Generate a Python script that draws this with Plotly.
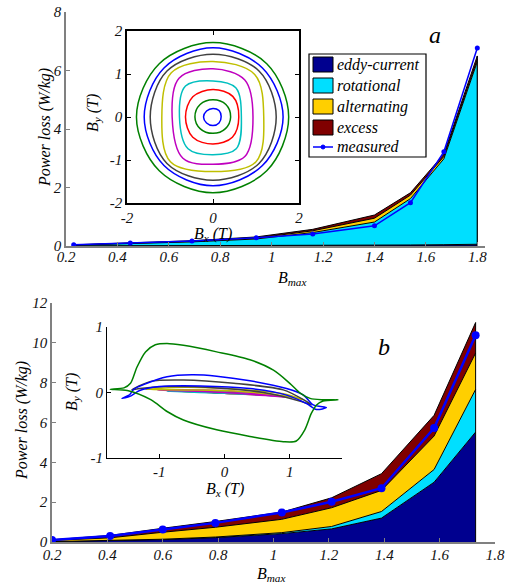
import plotly.graph_objects as go

W, H = 515, 585

# ---------------- panel a data ----------------
bmax_a = [0.23, 0.45, 0.69, 0.94, 1.16, 1.40, 1.54, 1.67, 1.80]
eddy_a = [0.001, 0.003, 0.006, 0.01, 0.015, 0.025, 0.035, 0.045, 0.06]
rot_a = [0.029, 0.077, 0.134, 0.23, 0.445, 0.795, 1.585, 2.935, 6.24]
alt_a = [0.005, 0.01, 0.02, 0.03, 0.06, 0.13, 0.12, 0.08, 0.08]
exc_a = [0.005, 0.01, 0.02, 0.04, 0.05, 0.11, 0.08, 0.08, 0.12]
meas_a = [0.04, 0.10, 0.17, 0.28, 0.41, 0.69, 1.48, 3.22, 6.77]

# ---------------- panel b data ----------------
bmax_b = [0.20, 0.41, 0.60, 0.79, 1.03, 1.21, 1.39, 1.58, 1.73]
eddy_b = [0.02, 0.06, 0.12, 0.22, 0.42, 0.66, 1.20, 3.00, 5.52]
rot_b = [0.0, 0.01, 0.02, 0.03, 0.05, 0.12, 0.33, 0.64, 2.14]
alt_b = [0.06, 0.14, 0.35, 0.49, 0.67, 0.94, 1.06, 1.68, 1.83]
exc_b = [0.03, 0.12, 0.20, 0.29, 0.36, 0.50, 0.84, 1.04, 1.53]
meas_b = [0.10, 0.30, 0.63, 0.96, 1.48, 2.02, 2.70, 5.72, 10.38]

series_names = ["eddy-current", "rotational", "alternating", "excess"]
series_colors = ["#00008F", "#00DFFF", "#FFCF00", "#800000"]
measured_name = "measured"

xticks_main = [0.2, 0.4, 0.6, 0.8, 1.0, 1.2, 1.4, 1.6, 1.8]
xticklabels_main = ["0.2", "0.4", "0.6", "0.8", "1", "1.2", "1.4", "1.6", "1.8"]
yticks_a = [0, 2, 4, 6, 8]
yticklabels_a = ["0", "2", "4", "6", "8"]
yticks_b = [0, 2, 4, 6, 8, 10, 12]
yticklabels_b = ["0", "2", "4", "6", "8", "10", "12"]
inset_a_xticks = [-2, 0, 2]
inset_a_xlabels = ["-2", "0", "2"]
inset_a_yticks = [-2, -1, 0, 1, 2]
inset_a_ylabels = ["-2", "-1", "0", "1", "2"]
inset_b_ticks = [-1, 0, 1]
inset_b_labels = ["-1", "0", "1"]

# ---------------- inset a: rotational loci (8 points each, inner -> outer) ----------------
loci_a_x = [
    [0.19, 0.14, 0.0, -0.15, -0.22, -0.15, 0.0, 0.14],
    [0.41, 0.30, 0.0, -0.30, -0.42, -0.30, 0.0, 0.29],
    [0.60, 0.46, 0.0, -0.47, -0.64, -0.47, 0.0, 0.45],
    [0.66, 0.53, 0.0, -0.64, -0.78, -0.58, 0.0, 0.54],
    [0.93, 0.74, 0.0, -0.79, -0.95, -0.70, 0.0, 0.74],
    [1.18, 0.97, 0.0, -0.97, -1.19, -0.99, 0.0, 1.00],
    [1.47, 1.07, 0.0, -1.07, -1.46, -1.07, 0.0, 1.07],
    [1.63, 1.15, 0.0, -1.14, -1.60, -1.14, 0.0, 1.15],
    [1.76, 1.25, 0.0, -1.25, -1.78, -1.25, 0.0, 1.25],
]
loci_a_y = [
    [0.01, 0.15, 0.20, 0.14, 0.0, -0.14, -0.20, -0.14],
    [0.0, 0.29, 0.40, 0.29, 0.0, -0.27, -0.38, -0.27],
    [0.0, 0.48, 0.64, 0.47, 0.0, -0.47, -0.63, -0.47],
    [0.0, 0.68, 0.84, 0.72, 0.0, -0.74, -0.88, -0.74],
    [0.0, 0.86, 1.12, 0.90, 0.0, -0.96, -1.10, -0.92],
    [0.0, 0.99, 1.29, 1.03, 0.0, -1.04, -1.27, -1.04],
    [0.0, 1.07, 1.46, 1.07, 0.0, -1.08, -1.47, -1.08],
    [0.0, 1.14, 1.61, 1.14, 0.0, -1.13, -1.60, -1.13],
    [0.0, 1.24, 1.73, 1.24, 0.0, -1.25, -1.76, -1.25],
]
loci_colors = ["#0000FF", "#008000", "#FF0000", "#00BFBF", "#BF00BF",
               "#BFBF00", "#404040", "#0000FF", "#008000"]

# ---------------- inset b: loci (inner -> outer) ----------------
loci_b_x = [
    [-0.20, 0.0, 0.20, 0.0, -0.20],
    [-0.45, 0.0, 0.40, 0.0, -0.45],
    [-0.70, 0.0, 0.60, 0.0, -0.70],
    [-0.88, 0.0, 0.80, 0.0, -0.88],
    [-1.03, 0.0, 0.95, 0.0, -1.03],
    [-1.21, -0.60, 0.20, 0.90, 1.21, 0.90, 0.20, -0.60, -1.21],
    [-1.42, -1.13, -0.63, 0.14, 0.90, 1.21, 1.33, 1.15, 0.60, -0.12, -0.90, -1.30, -1.42],
    [-1.57, -1.45, -1.39, -1.24, -0.88, -0.50, -0.12, 0.39, 0.95, 1.21, 1.36, 1.56,
     1.41, 1.26, 0.95, 0.39, -0.37, -1.00, -1.30, -1.45, -1.57],
    [-1.75, -1.54, -1.44, -1.34, -1.21, -1.06, -0.88, -0.63, -0.12, 0.39, 0.75, 1.00,
     1.16, 1.31, 1.50, 1.74, 1.51, 1.41, 1.33, 1.23, 1.10, 0.90, 0.39, -0.12, -0.63,
     -0.88, -1.13, -1.49, -1.75],
]
loci_b_y = [
    [0.0, 0.01, -0.01, -0.01, 0.0],
    [0.01, 0.01, -0.02, -0.01, 0.01],
    [0.02, 0.02, -0.04, -0.01, 0.02],
    [0.02, 0.02, -0.05, -0.01, 0.02],
    [0.04, 0.03, -0.07, 0.0, 0.04],
    [0.05, 0.08, 0.05, -0.02, -0.11, -0.05, 0.02, 0.04, 0.05],
    [0.04, 0.17, 0.19, 0.14, 0.04, -0.11, -0.19, -0.13, 0.0, 0.07, 0.09, 0.06, 0.04],
    [-0.09, -0.03, 0.05, 0.12, 0.24, 0.27, 0.25, 0.18, 0.06, -0.04, -0.19, -0.23,
     -0.26, -0.17, -0.04, 0.06, 0.10, 0.09, 0.03, -0.06, -0.09],
    [0.05, 0.07, 0.14, 0.39, 0.62, 0.73, 0.75, 0.72, 0.62, 0.50, 0.34, 0.14,
     -0.01, -0.09, -0.11, -0.11, -0.13, -0.19, -0.32, -0.57, -0.74, -0.75, -0.67,
     -0.57, -0.42, -0.29, -0.11, 0.03, 0.05],
]

FONT = "'Liberation Serif', 'Times New Roman', 'DejaVu Serif', serif"
tfont = dict(family=FONT, size=15, color="#111", style="italic")


def px(x):
    return x / W


def py(y):
    return 1 - y / H


def it(labels):
    return ["<i>" + s + "</i>" for s in labels]


fig = go.Figure()

# --- panel a stacked areas ---
comps_a = [eddy_a, rot_a, alt_a, exc_a]
for name, col, vals in zip(series_names, series_colors, comps_a):
    fig.add_trace(go.Scatter(x=bmax_a, y=vals, name=name, stackgroup="a",
                             fillcolor=col, line=dict(color="black", width=1),
                             mode="lines", xaxis="x", yaxis="y", showlegend=False))
tot_a = sum(v[-1] for v in comps_a)
fig.add_trace(go.Scatter(x=[bmax_a[0], bmax_a[-1], bmax_a[-1]], y=[0, 0, tot_a], mode="lines",
                         line=dict(color="black", width=1.2), showlegend=False,
                         xaxis="x", yaxis="y"))
fig.add_trace(go.Scatter(x=bmax_a, y=meas_a, name=measured_name, mode="lines+markers",
                         line=dict(color="#0000FF", width=1.5), showlegend=False,
                         marker=dict(size=5, color="#0000FF"), xaxis="x", yaxis="y"))

# --- panel a inset ---
for lx, ly, c in zip(loci_a_x, loci_a_y, loci_colors):
    fig.add_trace(go.Scatter(x=lx + [lx[0]], y=ly + [ly[0]], mode="lines",
                             line=dict(color=c, width=1.5, shape="spline", smoothing=1.0),
                             showlegend=False, xaxis="x2", yaxis="y2"))

# --- panel b stacked areas ---
comps_b = [eddy_b, rot_b, alt_b, exc_b]
for name, col, vals in zip(series_names, series_colors, comps_b):
    fig.add_trace(go.Scatter(x=bmax_b, y=vals, name=name, stackgroup="b",
                             fillcolor=col, line=dict(color="black", width=1),
                             mode="lines", xaxis="x3", yaxis="y3", showlegend=False))
tot_b = sum(v[-1] for v in comps_b)
fig.add_trace(go.Scatter(x=[bmax_b[-1], bmax_b[-1]], y=[0, tot_b], mode="lines",
                         line=dict(color="black", width=1), showlegend=False,
                         xaxis="x3", yaxis="y3"))
fig.add_trace(go.Scatter(x=bmax_b, y=meas_b, mode="lines+markers", showlegend=False,
                         line=dict(color="#0000FF", width=2.5),
                         marker=dict(size=8, color="#0000FF"), xaxis="x3", yaxis="y3"))

# --- panel b inset ---
for lx, ly, c in zip(loci_b_x, loci_b_y, loci_colors):
    fig.add_trace(go.Scatter(x=lx, y=ly, mode="lines",
                             line=dict(color=c, width=1.5, shape="spline", smoothing=0.8),
                             showlegend=False, xaxis="x4", yaxis="y4"))

main_ax = dict(showline=True, linecolor="#808080", linewidth=1.5, ticks="inside",
               ticklen=4, tickcolor="#808080", showgrid=False, zeroline=False,
               tickfont=tfont, automargin=False)
inset_ax = dict(showline=True, linecolor="black", linewidth=1.5, ticks="inside",
                ticklen=4, tickcolor="black", showgrid=False, zeroline=False,
                tickfont=tfont, automargin=False)

fig.update_layout(
    width=W, height=H, margin=dict(l=0, r=0, t=0, b=0, autoexpand=False),
    paper_bgcolor="white", plot_bgcolor="white", showlegend=False,
    xaxis=dict(main_ax, domain=[px(66), px(485)], range=[0.2, 1.83], anchor="y",
               tickvals=xticks_main, ticktext=it(xticklabels_main), ticklabelstandoff=-4),
    yaxis=dict(main_ax, domain=[py(246), py(12)], range=[0, 8], anchor="x",
               tickvals=yticks_a, ticktext=it(yticklabels_a)),
    xaxis2=dict(inset_ax, domain=[px(127), px(299)], range=[-2, 2], anchor="y2",
                tickvals=inset_a_xticks, ticktext=it(inset_a_xlabels), mirror="ticks"),
    yaxis2=dict(inset_ax, domain=[py(203), py(31)], range=[-2, 2], anchor="x2",
                tickvals=inset_a_yticks, ticktext=it(inset_a_ylabels), mirror="ticks"),
    xaxis3=dict(main_ax, domain=[px(52), px(495)], range=[0.2, 1.8], anchor="y3",
                tickvals=xticks_main, ticktext=it(xticklabels_main), ticklabelstandoff=-2),
    yaxis3=dict(main_ax, domain=[py(542), py(303)], range=[0, 12], anchor="x3",
                tickvals=yticks_b, ticktext=it(yticklabels_b)),
    xaxis4=dict(inset_ax, domain=[px(107), px(342)], range=[-1.8, 1.8], anchor="y4",
                tickvals=inset_b_ticks, ticktext=it(inset_b_labels), linewidth=1.2),
    yaxis4=dict(inset_ax, domain=[py(458), py(327)], range=[-1, 1], anchor="x4",
                tickvals=inset_b_ticks, ticktext=it(inset_b_labels), linewidth=1.2),
)

# --- legend (panel a), drawn as a framed key ---
leg_font = dict(family=FONT, size=16, color="black", style="italic")
fig.add_shape(type="rect", xref="paper", yref="paper", x0=px(309), x1=px(426),
              y0=py(157), y1=py(54), line=dict(color="black", width=1.2),
              fillcolor="white", layer="above")
row_tops = [57, 78, 99, 120]
for name, col, top in zip(series_names, series_colors, row_tops):
    fig.add_shape(type="rect", xref="paper", yref="paper", x0=px(313), x1=px(333),
                  y0=py(top + 15), y1=py(top), line=dict(color="black", width=1),
                  fillcolor=col, layer="above")
    fig.add_annotation(xref="paper", yref="paper", x=px(335), y=py(top + 7.5),
                       xanchor="left", yanchor="middle", text=name, showarrow=False,
                       font=leg_font)
fig.add_shape(type="line", xref="paper", yref="paper", x0=px(313), x1=px(333),
              y0=py(147), y1=py(147), line=dict(color="#0000FF", width=1.5), layer="above")
fig.add_shape(type="circle", xref="paper", yref="paper", x0=px(321), x1=px(325),
              y0=py(149), y1=py(145), line=dict(color="#0000FF", width=1),
              fillcolor="#0000FF", layer="above")
fig.add_annotation(xref="paper", yref="paper", x=px(335), y=py(146), xanchor="left",
                   yanchor="middle", text=measured_name, showarrow=False, font=leg_font)

ann_font = dict(family=FONT, size=16, color="black", style="italic")
annots = [
    dict(x=px(45), y=py(128), text="Power loss (W/kg)", textangle=-90),
    dict(x=px(22), y=py(421), text="Power loss (W/kg)", textangle=-90),
    dict(x=px(292), y=py(278), text="B<sub>max</sub>"),
    dict(x=px(271), y=py(574), text="B<sub>max</sub>"),
    dict(x=px(94), y=py(113), text="B<sub>y</sub> (T)", textangle=-90),
    dict(x=px(213), y=py(234), text="B<sub>x</sub> (T)"),
    dict(x=px(73), y=py(392), text="B<sub>y</sub> (T)", textangle=-90),
    dict(x=px(225), y=py(489), text="B<sub>x</sub> (T)"),
]
for a in annots:
    fig.add_annotation(xref="paper", yref="paper", showarrow=False, font=ann_font,
                       xanchor="center", yanchor="middle", **a)
fig.add_annotation(xref="paper", yref="paper", x=px(435), y=py(35), text="a",
                   xanchor="center", yanchor="middle", showarrow=False,
                   font=dict(family=FONT, size=24, color="black", style="italic"))
fig.add_annotation(xref="paper", yref="paper", x=px(384), y=py(347), text="b",
                   xanchor="center", yanchor="middle", showarrow=False,
                   font=dict(family=FONT, size=24, color="black", style="italic"))

fig.write_html("out.html", config={"displayModeBar": False},
               post_script="document.body.style.margin='0px';document.body.style.overflow='hidden';")
